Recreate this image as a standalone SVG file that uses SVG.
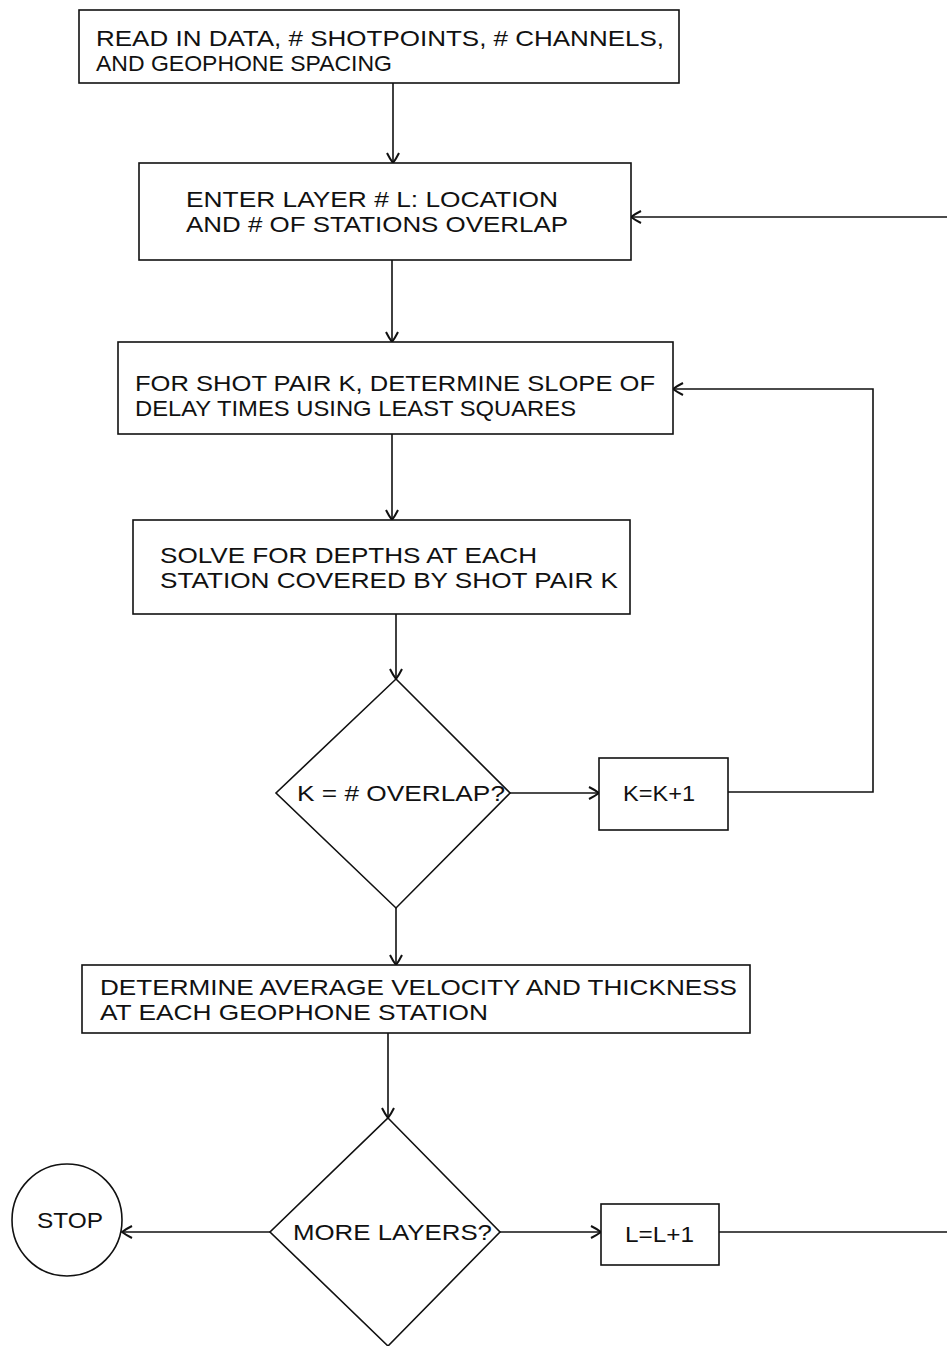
<svg xmlns="http://www.w3.org/2000/svg" width="947" height="1346" viewBox="0 0 947 1346">
<style>
.box{fill:#fff;stroke:#111;stroke-width:1.6}
.t{font-family:"Liberation Sans",Arial,sans-serif;font-size:22px;fill:#111}
.ln{fill:none;stroke:#111;stroke-width:1.6}
</style>
<defs>
<marker id="ah" viewBox="-12 -8 14 16" refX="0" refY="0" markerWidth="14" markerHeight="16" markerUnits="userSpaceOnUse" orient="auto">
<path d="M-10,-6 Q-4,-3 0,0 Q-4,3 -10,6" fill="none" stroke="#111" stroke-width="2"/>
</marker>
</defs>
<rect width="947" height="1346" fill="#fff"/>
<g id="connectors">
<line class="ln" x1="393" y1="83" x2="393" y2="163" marker-end="url(#ah)"/>
<line class="ln" x1="392" y1="260" x2="392" y2="342" marker-end="url(#ah)"/>
<line class="ln" x1="392" y1="434" x2="392" y2="520" marker-end="url(#ah)"/>
<line class="ln" x1="396" y1="614" x2="396" y2="679" marker-end="url(#ah)"/>
<line class="ln" x1="396" y1="908" x2="396" y2="965" marker-end="url(#ah)"/>
<line class="ln" x1="388" y1="1033" x2="388" y2="1118" marker-end="url(#ah)"/>
<line class="ln" x1="510" y1="793" x2="599" y2="793" marker-end="url(#ah)"/>
<polyline class="ln" points="728,792 873,792 873,389 673,389" marker-end="url(#ah)"/>
<line class="ln" x1="947" y1="217" x2="631" y2="217" marker-end="url(#ah)"/>
<line class="ln" x1="270" y1="1232" x2="122" y2="1232" marker-end="url(#ah)"/>
<line class="ln" x1="500" y1="1232" x2="601" y2="1232" marker-end="url(#ah)"/>
<line class="ln" x1="719" y1="1232" x2="947" y2="1232"/>
</g>
<g id="read-data">
<rect class="box" x="79" y="10" width="600" height="73"/>
<text class="t" x="96" y="46" textLength="568" lengthAdjust="spacingAndGlyphs">READ IN DATA, # SHOTPOINTS, # CHANNELS,</text>
<text class="t" x="96" y="71" textLength="296" lengthAdjust="spacingAndGlyphs">AND GEOPHONE SPACING</text>
</g>
<g id="enter-layer">
<rect class="box" x="139" y="163" width="492" height="97"/>
<text class="t" x="186" y="207" textLength="372" lengthAdjust="spacingAndGlyphs">ENTER LAYER # L:  LOCATION</text>
<text class="t" x="186" y="232" textLength="382" lengthAdjust="spacingAndGlyphs">AND # OF STATIONS OVERLAP</text>
</g>
<g id="shot-pair">
<rect class="box" x="118" y="342" width="555" height="92"/>
<text class="t" x="135" y="391" textLength="520" lengthAdjust="spacingAndGlyphs">FOR SHOT PAIR K, DETERMINE SLOPE OF</text>
<text class="t" x="135" y="416" textLength="441" lengthAdjust="spacingAndGlyphs">DELAY TIMES USING LEAST SQUARES</text>
</g>
<g id="solve-depths">
<rect class="box" x="133" y="520" width="497" height="94"/>
<text class="t" x="160" y="563" textLength="377" lengthAdjust="spacingAndGlyphs">SOLVE FOR DEPTHS AT EACH</text>
<text class="t" x="160" y="588" textLength="458" lengthAdjust="spacingAndGlyphs">STATION COVERED BY SHOT PAIR K</text>
</g>
<g id="k-overlap">
<polygon class="box" points="396,679 510,793 396,908 276,793"/>
<text class="t" x="297" y="801" textLength="208" lengthAdjust="spacingAndGlyphs">K = # OVERLAP?</text>
</g>
<g id="k-inc">
<rect class="box" x="599" y="758" width="129" height="72"/>
<text class="t" x="623" y="801" textLength="72" lengthAdjust="spacingAndGlyphs">K=K+1</text>
</g>
<g id="avg-velocity">
<rect class="box" x="82" y="965" width="668" height="68"/>
<text class="t" x="100" y="995" textLength="637" lengthAdjust="spacingAndGlyphs">DETERMINE AVERAGE VELOCITY AND THICKNESS</text>
<text class="t" x="100" y="1020" textLength="388" lengthAdjust="spacingAndGlyphs">AT EACH GEOPHONE STATION</text>
</g>
<g id="more-layers">
<polygon class="box" points="388,1118 500,1232 388,1346 270,1232"/>
<text class="t" x="293" y="1240" textLength="199" lengthAdjust="spacingAndGlyphs">MORE LAYERS?</text>
</g>
<g id="l-inc">
<rect class="box" x="601" y="1204" width="118" height="61"/>
<text class="t" x="625" y="1242" textLength="69" lengthAdjust="spacingAndGlyphs">L=L+1</text>
</g>
<g id="stop">
<ellipse class="box" cx="67" cy="1220" rx="55" ry="56"/>
<text class="t" x="37" y="1228" textLength="66" lengthAdjust="spacingAndGlyphs">STOP</text>
</g>
</svg>
